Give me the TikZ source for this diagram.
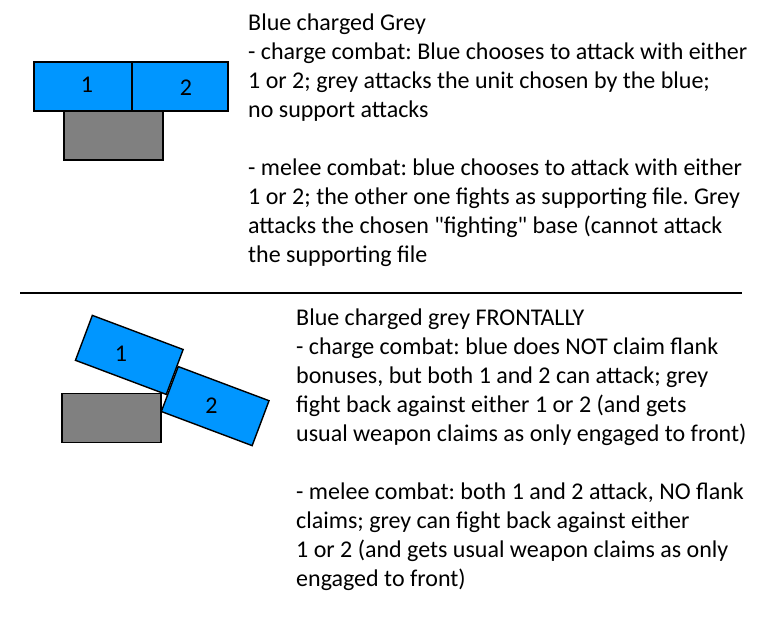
\documentclass[tikz,border=0pt]{standalone}
\usepackage{fontspec}
\setmainfont{Carlito}[Ligatures=TeXOff]
\usepackage{tikz}
\usetikzlibrary{positioning}
\definecolor{UnitBlue}{HTML}{0096FF}
\definecolor{UnitGrey}{HTML}{808080}
\frenchspacing

\begin{document}
\begin{tikzpicture}[x=1pt, y=-1pt,
  bluebase/.style={draw=black, line width=1.4pt, fill=UnitBlue, inner sep=0pt, minimum width=97pt, minimum height=48pt},
  greybase/.style={draw=black, line width=1.4pt, fill=UnitGrey, inner sep=0pt, minimum width=99pt, minimum height=49pt},
  baselabel/.style={inner sep=0pt, font=\fontsize{24}{29}\selectfont},
  notes/.style={anchor=base west, align=left, inner sep=0pt, font=\fontsize{24}{29}\selectfont}]
  \useasboundingbox (0,0) rectangle (762,629);
  % First case: bases side by side
  \node[greybase] (topgrey) at (113.5,135.5) {};
  \node[bluebase, minimum width=98pt, minimum height=49pt] (top1) at (83,86.5) {};
  \node[bluebase, minimum width=96pt, minimum height=49pt] (top2) at (180,86.5) {};
  \node[baselabel] at (87,85) {1};
  \node[baselabel] at (186,88) {2};
  % (anchor is the baseline of the last line)
  \node[notes] (toptext) at (248,262) {Blue charged Grey\\
    - charge combat: Blue chooses to attack with either\\
    1 or 2; grey attacks the unit chosen by the blue;\\
    no support attacks\\[29pt]
    - melee combat: blue chooses to attack with either\\
    1 or 2; the other one fights as supporting file. Grey\\
    attacks the chosen "fighting" base (cannot attack\\
    the supporting file};
  % Separator
  \coordinate (sepL) at (20,293);
  \coordinate (sepR) at (742,293);
  \draw[line width=1.6pt] (sepL) -- (sepR);
  % Second case: frontal charge
  \node[greybase] (lowgrey) at (111.5,418) {};
  \node[bluebase, rotate=-20.6] (low1) at (129.3,354.9) {};
  \node[bluebase, rotate=-20.6] (low2) at (215.2,406.1) {};
  \node[baselabel] at (121,354) {1};
  \node[baselabel] at (211.5,406) {2};
  \node[notes] (lowtext) at (296,586) {Blue charged grey FRONTALLY\\
    - charge combat: blue does NOT claim flank\\
    bonuses, but both 1 and 2 can attack; grey\\
    fight back against either 1 or 2 (and gets\\
    usual weapon claims as only engaged to front)\\[29pt]
    - melee combat: both 1 and 2 attack, NO flank\\
    claims; grey can fight back against either\\
    1 or 2 (and gets usual weapon claims as only\\
    engaged to front)};
\end{tikzpicture}
\end{document}
